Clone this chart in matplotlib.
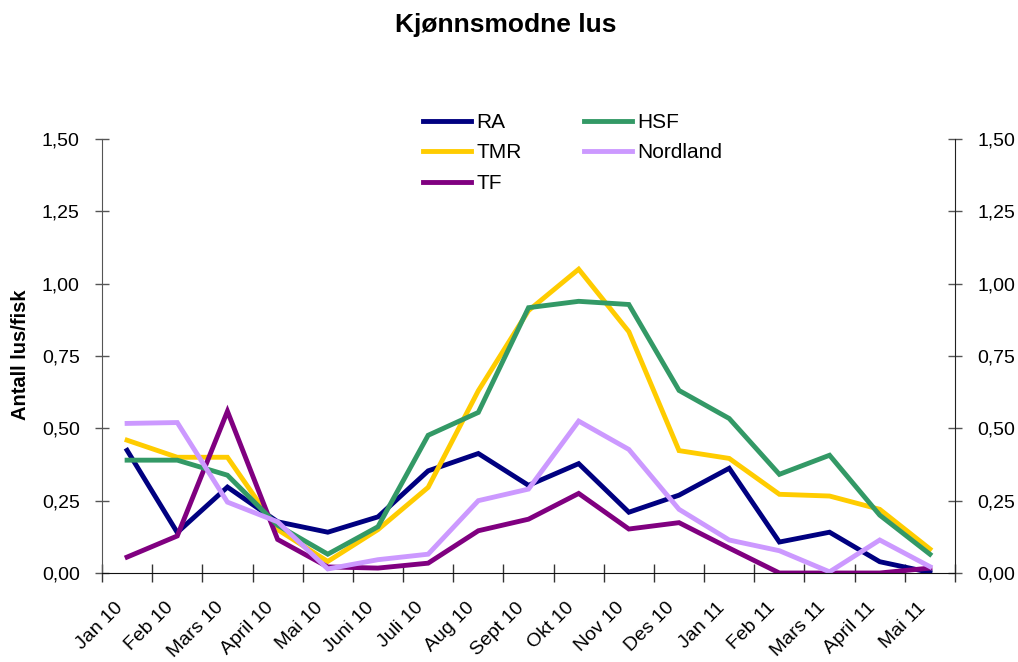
import numpy as np
import matplotlib
matplotlib.use('Agg')
import matplotlib.pyplot as plt
from matplotlib.transforms import ScaledTranslation

plt.rcParams['font.family'] = ['Liberation Sans', 'DejaVu Sans']

# data
months = ['Jan 10', 'Feb 10', 'Mars 10', 'April 10', 'Mai 10', 'Juni 10',
          'Juli 10', 'Aug 10', 'Sept 10', 'Okt 10', 'Nov 10', 'Des 10',
          'Jan 11', 'Feb 11', 'Mars 11', 'April 11', 'Mai 11']

ra = [0.424, 0.14, 0.297, 0.177, 0.141, 0.194, 0.353, 0.413, 0.303, 0.378,
      0.21, 0.269, 0.362, 0.107, 0.141, 0.039, 0.002]
hsf = [0.39, 0.39, 0.338, 0.165, 0.065, 0.16, 0.476, 0.555, 0.917, 0.939,
       0.928, 0.631, 0.534, 0.341, 0.407, 0.20, 0.065]
tmr = [0.459, 0.40, 0.40, 0.15, 0.04, 0.15, 0.296, 0.63, 0.907, 1.05,
       0.834, 0.423, 0.396, 0.272, 0.266, 0.22, 0.083]
nordland = [0.517, 0.52, 0.245, 0.177, 0.014, 0.046, 0.065, 0.25, 0.29,
            0.525, 0.427, 0.22, 0.114, 0.077, 0.004, 0.114, 0.022]
tf = [0.055, 0.128, 0.559, 0.116, 0.021, 0.017, 0.034, 0.146, 0.186, 0.275,
      0.152, 0.174, 0.086, 0.0, 0.0, 0.0, 0.017]

yticks = [0, 0.25, 0.5, 0.75, 1.0, 1.25, 1.5]

W, H = 1018, 662
fig = plt.figure(figsize=(W / 100, H / 100), dpi=100)
ax = fig.add_axes([102 / W, 1 - 573 / H, (955 - 102) / W, (573 - 139) / H])

x = np.arange(len(months)) + 0.5
lw = 3.5
ax.plot(x, ra, color='#000080', lw=lw, label='RA', solid_joinstyle='miter')
ax.plot(x, tmr, color='#FFCC00', lw=lw, label='TMR', solid_joinstyle='miter')
ax.plot(x, tf, color='#800080', lw=lw, label='TF', solid_joinstyle='miter')
ax.plot(x, hsf, color='#339966', lw=lw, label='HSF', solid_joinstyle='miter')
ax.plot(x, nordland, color='#CC99FF', lw=lw, label='Nordland', solid_joinstyle='miter')

ax.set_xlim(0, len(months))
ax.set_ylim(0, 1.5)

# y axis on both sides
ax.set_yticks(yticks)
ax.set_yticklabels([f'{v:.2f}'.replace('.', ',') for v in yticks])
ax.tick_params(axis='y', which='both', direction='inout', length=10, width=1,
               color='#555555', labelsize=14, left=True, right=True,
               labelleft=True, labelright=True, pad=11)

# x axis: ticks at category borders, labels at centres
ax.set_xticks(np.arange(len(months) + 1))
ax.set_xticklabels([])
ax.set_xticks(x, minor=True)
ax.set_xticklabels(months, minor=True, rotation=45, ha='right', va='center',
                   rotation_mode='anchor', fontsize=14)
ax.tick_params(axis='x', which='major', direction='inout', length=13, width=1,
               color='#333333')
ax.tick_params(axis='x', which='minor', length=0, pad=23)
off = ScaledTranslation(-5 / 72, 0, fig.dpi_scale_trans)
for lab in ax.get_xticklabels(minor=True):
    lab.set_transform(lab.get_transform() + off)

ax.spines['top'].set_visible(False)
ax.spines['left'].set_color('#555555')
ax.spines['right'].set_color('#222222')
ax.spines['bottom'].set_color('#111111')

fig.text(506 / W, 1 - 32 / H, 'Kjønnsmodne lus', ha='center', va='baseline',
         fontsize=19, fontweight='bold')
fig.text(21 / W, 1 - 355 / H, 'Antall lus/fisk', rotation=90, ha='center',
         va='center', fontsize=14.5, fontweight='bold')

ax.legend(loc='upper left', bbox_to_anchor=(423 / W, 1 - 113 / H),
          bbox_transform=fig.transFigure, ncol=2, frameon=False,
          fontsize=15, handlelength=2.3, handletextpad=0.25,
          columnspacing=3.0, labelspacing=0.55, borderpad=0, borderaxespad=0)

fig.savefig('out.png', dpi=100)
